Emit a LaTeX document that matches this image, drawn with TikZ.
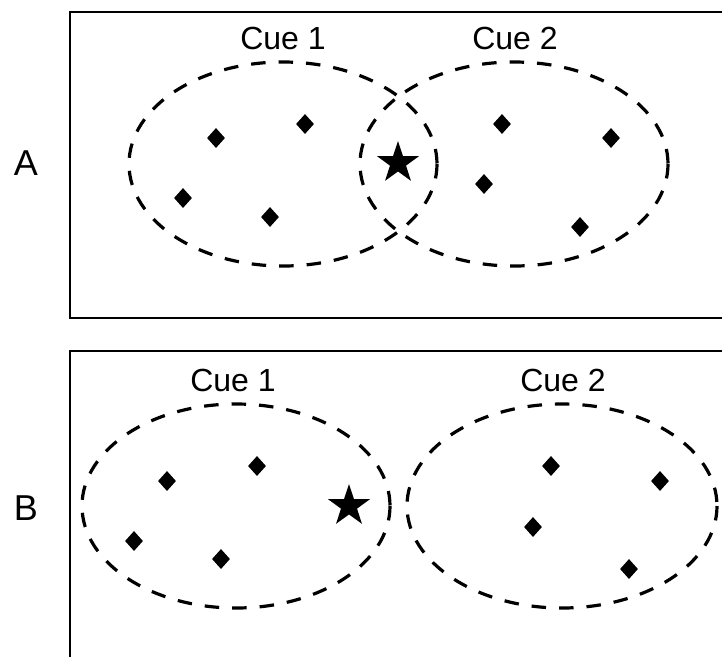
\documentclass[tikz,border=0pt]{standalone}
\usepackage{fontspec}
\setmainfont{Liberation Sans}
\usetikzlibrary{shapes.geometric}
\begin{document}
\begin{tikzpicture}[x=1pt,y=-1pt,
  frame/.style={line width=1.4pt},
  cue/.style={draw,dash pattern=on 14.5pt off 13pt,line width=3.2pt},
  item/.style={diamond,fill=black,inner sep=0pt,minimum width=18pt,minimum height=20pt},
  target/.style={star,star points=5,star point ratio=2.6,fill=black,inner sep=0pt,minimum size=44pt},
  lbl/.style={font=\fontsize{32}{36}\selectfont,inner sep=0pt},
  panel/.style={font=\fontsize{36}{40}\selectfont,inner sep=0pt}]
\useasboundingbox (0,0) rectangle (722,657);
% Panel A
\draw[frame] (722,12) -- (70,12) -- (70,318) -- (722,318);
\node[panel] (pa) at (26,163) {A};
\node[lbl] (a1) at (283,38) {Cue 1};
\node[lbl] (a2) at (515,38) {Cue 2};
\draw[cue] (283,164) ellipse [x radius=154, y radius=102];
\draw[cue] (514,164) ellipse [x radius=154, y radius=102];
\node[item] (ad1) at (216,138) {};
\node[item] (ad2) at (305,124) {};
\node[item] (ad3) at (183,198) {};
\node[item] (ad4) at (270,217) {};
\node[item] (ad5) at (502,124) {};
\node[item] (ad6) at (611,138) {};
\node[item] (ad7) at (484,184) {};
\node[item] (ad8) at (580,227) {};
\node[target] (as) at (398,163) {};
% Panel B
\draw[frame] (722,351) -- (70,351) -- (70,657);
\node[panel] (pb) at (26,508) {B};
\node[lbl] (b1) at (233,380) {Cue 1};
\node[lbl] (b2) at (563,380) {Cue 2};
\draw[cue] (236,506) ellipse [x radius=154, y radius=102];
\draw[cue] (562,506) ellipse [x radius=155, y radius=102];
\node[item] (bd1) at (167,481) {};
\node[item] (bd2) at (257,466) {};
\node[item] (bd3) at (134,541) {};
\node[item] (bd4) at (221,559) {};
\node[item] (bd5) at (551,466) {};
\node[item] (bd6) at (660,481) {};
\node[item] (bd7) at (533,527) {};
\node[item] (bd8) at (629,569) {};
\node[target] (bs) at (349,506) {};
\end{tikzpicture}
\end{document}
